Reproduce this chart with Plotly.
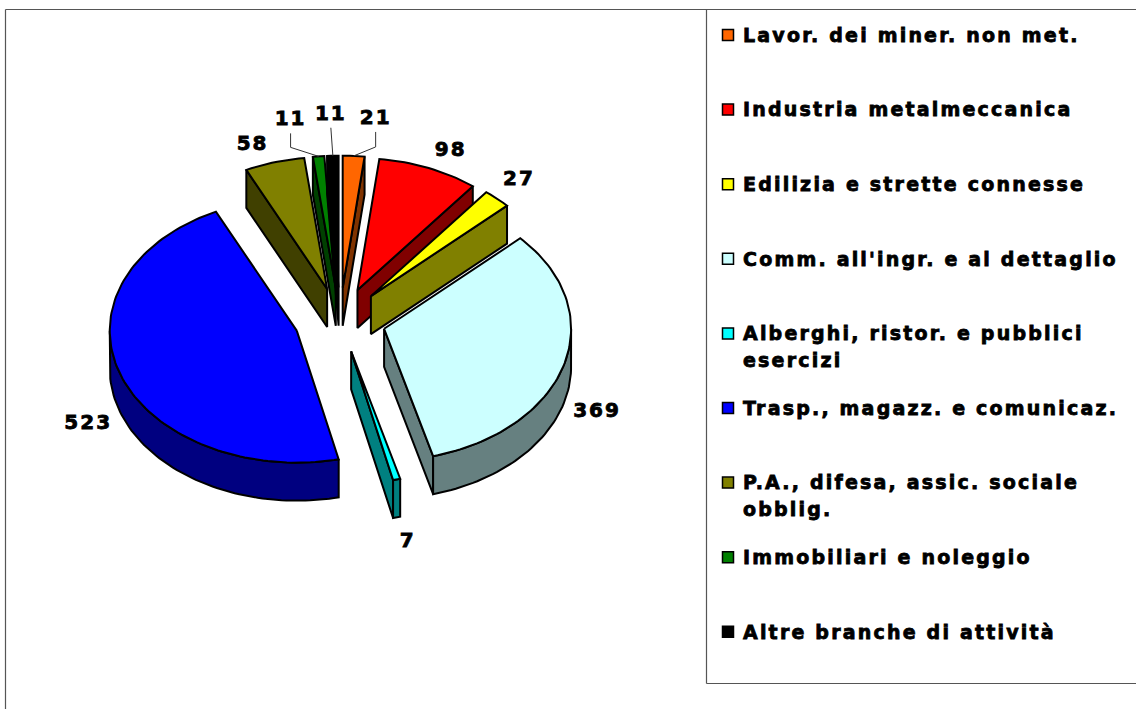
import numpy as np
import plotly.graph_objects as go

# ---- data ----
categories = ["Lavor. dei miner. non met.", "Industria metalmeccanica", "Edilizia e strette connesse",
              "Comm. all'ingr. e al dettaglio", "Alberghi, ristor. e pubblici\nesercizi",
              "Trasp., magazz. e comunicaz.", "P.A., difesa, assic. sociale\nobblig.",
              "Immobiliari e noleggio", "Altre branche di attività"]
values = [21, 98, 27, 369, 7, 523, 58, 11, 11]

# ---- style ----
top_colors = ["#FF6600", "#FF0000", "#FFFF00", "#CCFFFF", "#00FFFF", "#0000FF", "#808000", "#008000", "#000000"]
side_colors = ["#803300", "#800000", "#808000", "#668080", "#008080", "#000080", "#404000", "#004000", "#000000"]
label_offsets = [(22, -37), (22, -17), (22, -19), (33, 47), (11, 63), (-32, 50), (-22, -17), (-28, -36), (-2, -41)]
leader = [True, False, False, False, False, False, False, True, True]

# ---- projected pie geometry ----
CX, CY, RX, RY, DEPTH, EXPLODE = 340, 320, 187, 132, 38, 0.245
FONT = "DejaVu Sans"

fig = go.Figure()
total = sum(values)
edges = np.cumsum([0] + values) / total * 2 * np.pi


def poly(xs, ys, fill, name):
    xs, ys = list(xs), list(ys)
    fig.add_trace(go.Scatter(x=xs + xs[:1], y=ys + ys[:1], mode="lines", fill="toself", fillcolor=fill,
                             line=dict(color="#000000", width=2), hoverinfo="skip", showlegend=False,
                             name=name))


draw_order = [5, 6, 7, 8, 0, 1, 2, 3, 4]
arc_mid = {}
for i in draw_order:
    a0, a1 = edges[i], edges[i + 1]
    mid = (a0 + a1) / 2
    ax = CX + EXPLODE * RX * np.sin(mid)
    ay = CY - EXPLODE * RY * np.cos(mid)
    t = np.linspace(a0, a1, max(4, int((a1 - a0) * 40)))
    ex, ey = ax + RX * np.sin(t), ay - RY * np.cos(t)
    arc_mid[i] = (ax + RX * np.sin(mid), ay - RY * np.cos(mid))
    name = categories[i].split("\n")[0]
    # radial wall facing the viewer
    for a, vis in ((a0, np.sin(a0) < 0), (a1, np.sin(a1) > 0)):
        if vis:
            px, py = ax + RX * np.sin(a), ay - RY * np.cos(a)
            poly([ax, px, px, ax], [ay, py, py + DEPTH, ay + DEPTH], side_colors[i], name)
    # rim wall on the near half of the ellipse
    lo, hi = max(a0, np.pi / 2), min(a1, 3 * np.pi / 2)
    if hi > lo:
        r = np.linspace(lo, hi, max(4, int((hi - lo) * 40)))
        rx, ry = ax + RX * np.sin(r), ay - RY * np.cos(r)
        poly(np.r_[rx, rx[::-1]], np.r_[ry, ry[::-1] + DEPTH], side_colors[i], name)
    # top face
    poly(np.r_[ax, ex], np.r_[ay, ey], top_colors[i], name)

# ---- value labels ----
lab_x, lab_y = [], []
for i, v in enumerate(values):
    mx, my = arc_mid[i]
    lx, ly = mx + label_offsets[i][0], my + label_offsets[i][1]
    lab_x.append(lx)
    lab_y.append(ly)
    if leader[i]:
        elbow_y = my - 9 if i != 8 else my
        xs = [mx, lx, lx] if i != 8 else [mx, lx]
        ys = [my, elbow_y, ly + 13] if i != 8 else [my, ly + 13]
        fig.add_trace(go.Scatter(x=xs, y=ys, mode="lines", line=dict(color="#333333", width=1),
                                 hoverinfo="skip", showlegend=False))
fig.add_trace(go.Scatter(x=lab_x, y=lab_y, mode="text", text=[str(v) for v in values],
                         textposition="middle center", hoverinfo="skip", showlegend=False,
                         textfont=dict(family=FONT, size=20, color="#000000", weight="bold")))

# ---- legend ----
LEG_X, LEG_TX, LEG_Y0, LEG_DY, LINE_DY = 728, 743, 35, 74.6, 26.5
leg_y = [LEG_Y0 + k * LEG_DY for k in range(len(categories))]
fig.add_trace(go.Scatter(x=[LEG_X] * len(categories), y=leg_y, mode="markers", hoverinfo="skip", showlegend=False,
                         marker=dict(symbol="square", size=11, color=top_colors,
                                     line=dict(color="#000000", width=1.5))))
txt_x, txt_y, txt = [], [], []
for k, c in enumerate(categories):
    for j, part in enumerate(c.split("\n")):
        txt_x.append(LEG_TX)
        txt_y.append(leg_y[k] + j * LINE_DY + 2)
        txt.append(part)
fig.add_trace(go.Scatter(x=txt_x, y=txt_y, mode="text", text=txt, textposition="middle right",
                         hoverinfo="skip", showlegend=False,
                         textfont=dict(family=FONT, size=19, color="#000000", weight="bold")))

frame = dict(color="#555555", width=1.2)
shapes = [
    dict(type="line", x0=5.5, x1=5.5, y0=9.5, y1=709, line=frame),
    dict(type="line", x0=5.5, x1=1136, y0=9.5, y1=9.5, line=frame),
    dict(type="line", x0=706.5, x1=706.5, y0=9.5, y1=683.5, line=frame),
    dict(type="line", x0=706.5, x1=1136, y0=683.5, y1=683.5, line=frame),
]

fig.update_layout(width=1136, height=709, margin=dict(l=0, r=0, t=0, b=0), paper_bgcolor="#FFFFFF",
                  plot_bgcolor="#FFFFFF", showlegend=False, shapes=shapes,
                  font=dict(family=FONT),
                  xaxis=dict(visible=False, range=[0, 1136], fixedrange=True),
                  yaxis=dict(visible=False, range=[709, 0], fixedrange=True))

post = """
document.body.style.margin='0';document.documentElement.style.overflow='hidden';
document.querySelectorAll('.textpoint text').forEach(function(t){
  t.style.letterSpacing = parseFloat(t.style.fontSize) > 19.5 ? '2px' : '2.2px';
  t.style.stroke = '#000000';
  t.style.strokeWidth = '0.8px';
});
"""
fig.write_html("out.html", post_script=post, config=dict(displayModeBar=False))
